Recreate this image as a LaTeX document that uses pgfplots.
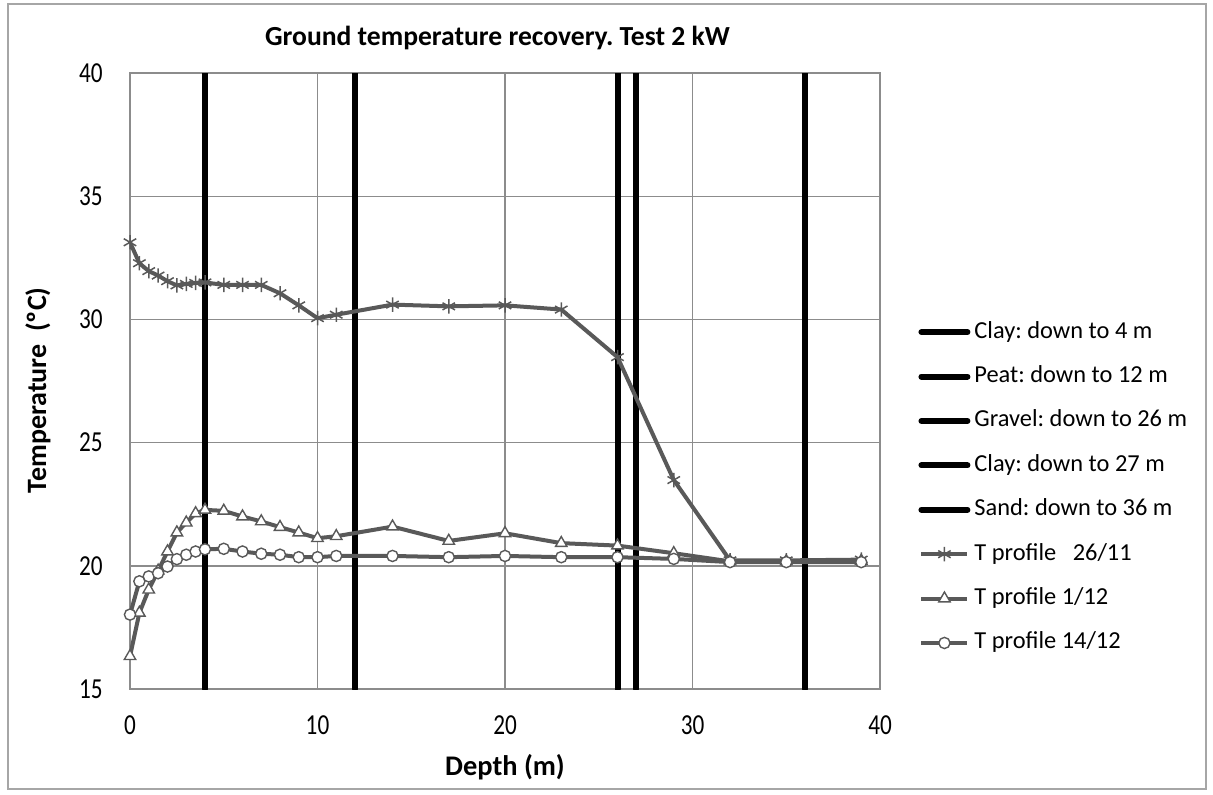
\documentclass[border=0pt]{standalone}
\usepackage{fontspec}
\setmainfont{Carlito}
\newfontfamily\tickfont{Carlito}[FakeStretch=0.8]
\usepackage{pgfplots}
\pgfplotsset{compat=1.18}
\definecolor{series}{HTML}{595959}
\definecolor{gridgray}{HTML}{8C8C8C}
\definecolor{framegray}{HTML}{A6A6A6}

\begin{document}
\frenchspacing
\begin{tikzpicture}
\path (0,0) rectangle (606.5pt,397pt);
\draw[framegray, line width=0.8pt] (4pt,2.5pt) rectangle (603pt,395pt);
\begin{axis}[
  at={(65pt,52.5pt)}, anchor=south west,
  scale only axis, width=375pt, height=308pt,
  xmin=0, xmax=40, ymin=15, ymax=40,
  xtick={0,10,...,40}, ytick={15,20,...,40},
  grid=major,
  major grid style={gridgray, line width=0.7pt},
  axis line style={gridgray, line width=0.7pt},
  tick style={draw=none},
  /pgf/number format/assume math mode=true,
  ticklabel style={font=\tickfont\fontsize{14.5}{16}\selectfont, inner sep=0pt},
  xticklabel style={anchor=base, yshift=-22.5pt},
  yticklabel style={anchor=east, xshift=-13.5pt},
  every axis title shift=0pt,
  title={Ground temperature recovery. Test 2 kW},
  title style={at={(axis description cs:0.49,1.0443)}, anchor=base,
    font=\fontsize{13.8}{16}\selectfont\bfseries, inner sep=0pt},
  xlabel={Depth (m)},
  every axis x label/.style={at={(axis description cs:0.5,-0.141)}, anchor=base,
    font=\fontsize{14.2}{16}\selectfont\bfseries, inner sep=0pt},
  ylabel={Temperature\ \ (ºC)},
  every axis y label/.style={at={(axis description cs:-0.1227,0.485)}, rotate=90,
    anchor=center, font=\fontsize{14}{16}\selectfont\bfseries, inner sep=0pt},
  legend style={at={(axis description cs:1.0507,0.327)}, anchor=west,
    draw=none, fill=none, inner sep=0pt, row sep=11.2pt,
    font=\fontsize{12.2}{14}\selectfont,
    nodes={inner sep=0pt, text height=8.5pt, text depth=2.5pt},
    /tikz/every odd column/.append style={column sep=2pt}},
  legend cell align=left,
  legend image code/.code={\draw[mark repeat=2, mark phase=2, #1]
    plot coordinates {(1.5pt,0pt) (13pt,0pt) (24.5pt,0pt)};},
  layer line/.style={black, line width=3pt, line cap=round},
  profile/.style={series, line width=2pt},
]

\addplot[layer line] coordinates {(4,15) (4,40)};
\addlegendentry{Clay: down to 4 m}
\addplot[layer line] coordinates {(12,15) (12,40)};
\addlegendentry{Peat: down to 12 m}
\addplot[layer line] coordinates {(26,15) (26,40)};
\addlegendentry{Gravel: down to 26 m}
\addplot[layer line] coordinates {(27,15) (27,40)};
\addlegendentry{Clay: down to 27 m}
\addplot[layer line] coordinates {(36,15) (36,40)};
\addlegendentry{Sand: down to 36 m}

% 26/11
\addplot[profile, mark=asterisk, mark size=3.6pt,
  mark options={draw=series, line width=0.75pt, solid}] coordinates {
  (0,33.13) (0.5,32.28) (1,31.96) (1.5,31.78) (2,31.55) (2.5,31.38)
  (3,31.44) (3.5,31.48) (4,31.50) (5,31.40) (6,31.40) (7,31.40)
  (8,31.06) (9,30.57) (10,30.05) (11,30.19) (14,30.60) (17,30.53)
  (20,30.57) (23,30.40) (26,28.47) (29,23.48) (32,20.22) (35,20.22) (39,20.25)
};
\addlegendentry{T profile \ \ 26/11}

% 1/12
\addplot[profile, mark=triangle*, mark size=3.3pt,
  mark options={draw=series, fill=white, line width=0.7pt, solid}] coordinates {
  (0,16.33) (0.5,18.09) (1,19.03) (1.5,19.80) (2,20.58) (2.5,21.35)
  (3,21.75) (3.5,22.13) (4,22.27) (5,22.23) (6,22.00) (7,21.80)
  (8,21.57) (9,21.35) (10,21.12) (11,21.20) (14,21.59) (17,21.01)
  (20,21.32) (23,20.92) (26,20.82) (29,20.51) (32,20.18) (35,20.18) (39,20.20)
};
\addlegendentry{T profile 1/12}

% 14/12
\addplot[profile, mark=*, mark size=2.8pt,
  mark options={draw=series, fill=white, line width=0.7pt, solid}] coordinates {
  (0,18.02) (0.5,19.37) (1,19.57) (1.5,19.70) (2,19.97) (2.5,20.27)
  (3,20.45) (3.5,20.58) (4,20.67) (5,20.69) (6,20.58) (7,20.49)
  (8,20.45) (9,20.35) (10,20.35) (11,20.40) (14,20.40) (17,20.35)
  (20,20.40) (23,20.35) (26,20.35) (29,20.28) (32,20.15) (35,20.15) (39,20.15)
};
\addlegendentry{T profile 14/12}

\end{axis}
\end{tikzpicture}
\end{document}
